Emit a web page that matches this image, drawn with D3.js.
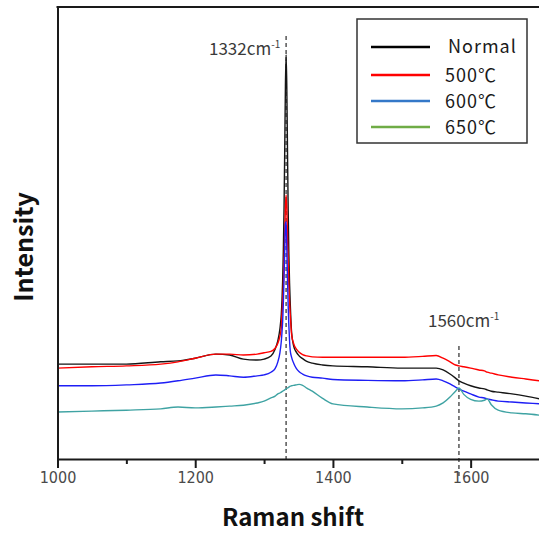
<!DOCTYPE html>
<html>
<head>
<meta charset="utf-8">
<script src="https://cdn.jsdelivr.net/npm/d3@7"></script>
<style>
  html, body { margin: 0; padding: 0; background: #ffffff; }
  svg { display: block; }
</style>
</head>
<body>
<svg id="chart" width="539" height="534"></svg>
<script>
// ---- data ----
const shift = [1000,1050,1100,1150,1175,1200,1230,1250,1270,1290,1300,1310,1316,1320,1323,1325,1326,1327,1328,1329,1330,1331,1332,1333,1334,1335,1336,1337,1338,1340,1343,1347,1351,1356,1362,1370,1385,1400,1450,1500,1530,1550,1560,1570,1578,1583,1590,1600,1612,1620,1624,1630,1640,1660,1680,1700];

const normal = [210,210,210,215,217,223,232,230,221,219,221,228,243,262,288,320,350,395,460,555,685,826,894,826,685,552,455,390,345,280,250,236,228,222,216,212,208,206,204,201,201,201,197,188,179,173,168,162,157,155,153,150,148,144,139,133];

const t500 = [201,204,206,210,215,223,232,232,230,232,235,238,245,256,272,290,321,348,385,435,497,557,584,557,497,435,385,348,321,275,255,243,236,231,228,226,225,225,225,225,227,229,223,215,208,206,204,201,197,195,192,190,186,181,177,173];

const t600 = [162,162,164,168,173,179,186,184,181,184,186,192,200,215,235,260,280,305,345,400,465,520,525,470,400,340,295,262,240,225,212,200,193,188,184,181,179,176,174,173,175,177,173,166,159,155,150,144,137,135,133,131,128,126,124,122];

const t650 = [104,106,108,111,115,113,115,117,119,124,128,135,139,144,146,148,149,150,151,152,153,154,155,156,157,158,159,160,161,162,163,164,165,163,157,150,134,122,115,111,113,117,124,137,150,157,143,132,128,130,133,120,108,102,100,97];

const seriesNames = ["Normal", "500\u2103", "600\u2103", "650\u2103"];
const lineColors = ["#151515", "#ff0000", "#1e1ef5", "#3fa3a3"];
const legendColors = ["#000000", "#ff0000", "#3478c8", "#6fac46"];
const xTicks = [1000, 1200, 1400, 1600];
const xMinorTicks = [1100, 1300, 1500];
const peakMarks = [1332, 1583];
const peakLabels = ["1332", "1560"];

// ---- layout ----
const svg = d3.select("#chart");
const x = d3.scaleLinear().domain([1000, 1700]).range([57.5, 539.5]);
const y = d3.scaleLinear().domain([0, 1000]).range([459, 7]);

const seriesData = [normal, t500, t600, t650];

// dashed reference lines
svg.append("line")
  .attr("x1", x(peakMarks[0])).attr("x2", x(peakMarks[0]))
  .attr("y1", 36).attr("y2", 459)
  .attr("stroke", "#555").attr("stroke-width", 1.5).attr("stroke-dasharray", "4,3");
svg.append("line")
  .attr("x1", x(peakMarks[1])).attr("x2", x(peakMarks[1]))
  .attr("y1", 346).attr("y2", 478)
  .attr("stroke", "#555").attr("stroke-width", 1.5).attr("stroke-dasharray", "4,3");

// series lines
const line = d3.line()
  .x((d, i) => x(shift[i]))
  .y(d => y(d))
  .curve(d3.curveMonotoneX);

seriesData.forEach((s, k) => {
  svg.append("path")
    .datum(s)
    .attr("fill", "none")
    .attr("stroke", lineColors[k])
    .attr("stroke-width", 1.4)
    .attr("stroke-linejoin", "round")
    .attr("d", line);
});

// axes
const xAxis = d3.axisBottom(x).tickValues(xTicks).tickSize(9).tickSizeOuter(0).tickFormat(d3.format("d"));
const gx = svg.append("g").attr("transform", "translate(0,459)").call(xAxis);
gx.select(".domain").attr("stroke", "#1a1a1a").attr("stroke-width", 2);
gx.selectAll(".tick line").attr("stroke", "#1a1a1a").attr("stroke-width", 2);
gx.selectAll(".tick text")
  .attr("y", 13)
  .attr("dy", "0.71em")
  .attr("fill", "#4a4a4a")
  .style("font-family", "'Liberation Sans Narrow', 'Arial Narrow', 'DejaVu Sans Condensed', sans-serif")
  .style("font-size", "16px");

const xMinor = d3.axisBottom(x).tickValues(xMinorTicks).tickSize(5).tickFormat("");
const gm = svg.append("g").attr("transform", "translate(0,459)").call(xMinor);
gm.select(".domain").remove();
gm.selectAll(".tick line").attr("stroke", "#1a1a1a").attr("stroke-width", 2);

// left axis line and top frame
const yAxis = d3.axisLeft(y).tickValues([]).tickSizeOuter(0);
const gy = svg.append("g").attr("transform", "translate(57.5,0)").call(yAxis);
gy.select(".domain").attr("stroke", "#1a1a1a").attr("stroke-width", 2);
svg.append("line")
  .attr("x1", 56.5).attr("x2", 539).attr("y1", 7).attr("y2", 7)
  .attr("stroke", "#1a1a1a").attr("stroke-width", 2);

// axis titles
svg.append("text")
  .attr("x", 293).attr("y", 526)
  .attr("text-anchor", "middle")
  .attr("fill", "#111")
  .style("font-family", "'Noto Sans CJK KR', sans-serif")
  .style("font-weight", "bold")
  .style("font-size", "24px")
  .text("Raman shift");

svg.append("text")
  .attr("transform", "translate(33,247) rotate(-90)")
  .attr("text-anchor", "middle")
  .attr("fill", "#111")
  .style("font-family", "'Noto Sans CJK KR', sans-serif")
  .style("font-weight", "bold")
  .style("font-size", "25px")
  .text("Intensity");

// peak labels
const labelPos = [[209, 55], [428, 327]];
peakLabels.forEach((lab, i) => {
  const t = svg.append("text")
    .attr("x", labelPos[i][0]).attr("y", labelPos[i][1])
    .attr("fill", "#3a3a3a")
    .style("font-family", "'Noto Sans CJK KR', sans-serif")
    .style("font-size", "17px");
  t.append("tspan").text(lab + "cm");
  t.append("tspan").attr("dy", -7).style("font-size", "10px").text("-1");
});

// legend
const lg = svg.append("g");
lg.append("rect")
  .attr("x", 357).attr("y", 19).attr("width", 170).attr("height", 124)
  .attr("fill", "#fff").attr("stroke", "#333").attr("stroke-width", 1.5);
seriesNames.forEach((name, i) => {
  const ly = i === 0 ? 47 : 75 + 26 * (i - 1);
  lg.append("line")
    .attr("x1", 371).attr("x2", 430).attr("y1", ly).attr("y2", ly)
    .attr("stroke", legendColors[i]).attr("stroke-width", 2.5);
  lg.append("text")
    .attr("x", i === 0 ? 448 : 445)
    .attr("y", i === 0 ? 53 : ly + 7)
    .attr("fill", "#1a1a1a")
    .style("font-family", "'Noto Sans CJK KR', sans-serif")
    .style("font-size", "18px")
    .style("letter-spacing", "1px")
    .text(name);
});
</script>
</body>
</html>
